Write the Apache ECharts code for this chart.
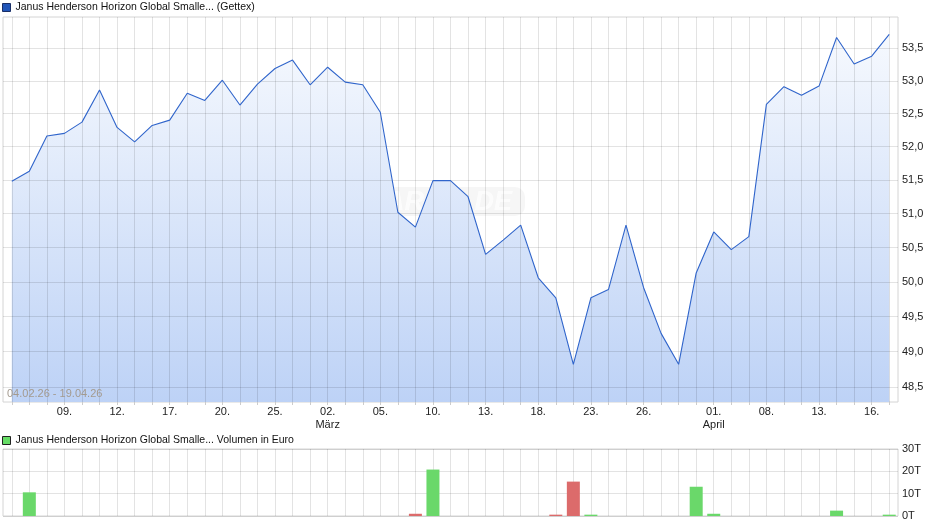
<!DOCTYPE html>
<html><head><meta charset="utf-8">
<script src="https://cdn.jsdelivr.net/npm/echarts@6/dist/echarts.min.js"></script>
<style>html,body{margin:0;padding:0;background:#fff}#c{width:940px;height:526px}</style>
</head><body><div id="c"></div>
<script>
const priceName = 'Janus Henderson Horizon Global Smalle... (Gettex)';
const volName = 'Janus Henderson Horizon Global Smalle... Volumen in Euro';
const dateRange = '04.02.26 - 19.04.26';

const dates = ['04.02.26','05.02.26','06.02.26','09.02.26','10.02.26','11.02.26','12.02.26','13.02.26','16.02.26','17.02.26','18.02.26','19.02.26','20.02.26','23.02.26','24.02.26','25.02.26','26.02.26','27.02.26','02.03.26','03.03.26','04.03.26','05.03.26','06.03.26','09.03.26','10.03.26','11.03.26','12.03.26','13.03.26','16.03.26','17.03.26','18.03.26','19.03.26','20.03.26','23.03.26','24.03.26','25.03.26','26.03.26','27.03.26','30.03.26','31.03.26','01.04.26','02.04.26','07.04.26','08.04.26','09.04.26','10.04.26','13.04.26','14.04.26','15.04.26','16.04.26','17.04.26'];

const closes = [51.48,51.63,52.16,52.20,52.37,52.86,52.29,52.07,52.32,52.40,
  52.81,52.70,53.01,52.63,52.95,53.19,53.32,52.94,53.21,52.98,
  52.94,52.52,51.02,50.80,51.49,51.49,51.25,50.40,50.61,50.83,
  50.06,49.77,48.82,49.77,49.89,50.83,49.92,49.26,48.82,50.13,
  50.73,50.47,50.66,52.64,52.91,52.78,52.92,53.67,53.26,53.38,53.72];

// volume in thousand euro (T)
const volumes = [0,10.6,0,0,0,0,0,0,0,0,
  0,0,0,0,0,0,0,0,0,0,
  0,0,0,1.0,20.8,0,0,0,0,0,
  0,0.6,15.4,0.6,0,0,0,0,0,13.1,
  1.0,0,0,0,0,0,0,2.4,0,0,0.6];

const priceTicks = [48.5,49.0,49.5,50.0,50.5,51.0,51.5,52.0,52.5,53.0,53.5];
const xTickLabels = ['09.02.26','12.02.26','17.02.26','20.02.26','25.02.26','02.03.26','05.03.26','10.03.26','13.03.26','18.03.26','23.03.26','26.03.26','01.04.26','08.04.26','13.04.26','16.04.26'];
const monthLabels = {'02.03.26':'März','01.04.26':'April'};

const FONT = 'Liberation Sans, Arial, sans-serif';
const GRID_LINE = 'rgba(0,0,0,0.11)';

const chart = echarts.init(document.getElementById('c'));
const vLines = dates.map(d => ({xAxis: d}));
const hLines = priceTicks.map(v => ({
  yAxis: v,
  label: {show: true, position: 'end', distance: 4, formatter: v.toFixed(1).replace('.', ','),
          fontSize: 11, color: '#222', fontFamily: FONT}
}));

chart.setOption({
  animation: false,
  title: {text: dateRange, left: 7, top: 388, padding: 0,
    textStyle: {fontSize: 11, fontWeight: 'normal', color: '#a39a8f', fontFamily: FONT}},
  legend: [
    {data: [{name: priceName, icon: 'rect', itemStyle: {color: '#2155b8', borderColor: '#1a2f66', borderWidth: 1}}],
     left: 2, top: 2, padding: 0, itemWidth: 8, itemHeight: 8, selectedMode: false,
     textStyle: {fontSize: 10.5, color: '#111', fontFamily: FONT}},
    {data: [{name: volName, icon: 'rect', itemStyle: {color: '#66dd66', borderColor: '#222', borderWidth: 1}}],
     left: 2, top: 435, padding: 0, itemWidth: 8, itemHeight: 8, selectedMode: false,
     textStyle: {fontSize: 10.5, color: '#111', fontFamily: FONT}}
  ],
  grid: [
    {left: 3, right: 42, top: 17, bottom: 124, show: true, borderColor: '#d4d4d4', borderWidth: 1},
    {left: 3, right: 42, top: 449, bottom: 10, show: true, borderColor: '#d4d4d4', borderWidth: 1}
  ],
  xAxis: [
    {type: 'category', gridIndex: 0, data: dates, boundaryGap: true,
     axisLine: {show: false},
     axisTick: {show: true, alignWithLabel: true, interval: 0, length: 3, lineStyle: {color: '#ccc'}},
     splitLine: {show: false},
     axisLabel: {interval: (i, v) => xTickLabels.includes(v),
       formatter: v => v.slice(0, 3) + (monthLabels[v] ? '\n' + monthLabels[v] : ''),
       fontSize: 11, color: '#222', margin: 3, lineHeight: 13, fontFamily: FONT}},
    {type: 'category', gridIndex: 1, data: dates, boundaryGap: true,
     axisLine: {show: false}, axisTick: {show: false}, axisLabel: {show: false}, splitLine: {show: false}}
  ],
  yAxis: [
    {type: 'log', gridIndex: 0, logBase: 10, min: 48.29, max: 53.99, position: 'right',
     axisLine: {show: false}, axisTick: {show: false}, axisLabel: {show: false}, splitLine: {show: false}},
    {type: 'value', gridIndex: 1, min: 0, max: 30, interval: 10, position: 'right',
     axisLine: {show: false}, axisTick: {show: false},
     axisLabel: {formatter: '{value}T', fontSize: 11, color: '#222', margin: 4, fontFamily: FONT},
     splitLine: {show: true, lineStyle: {color: GRID_LINE}}}
  ],
  graphic: [
    {type: 'group', left: 377, top: 187, silent: true, z: 1, children: [
      {type: 'rect', shape: {x: 0, y: 0, width: 148, height: 29, r: 10},
       style: {fill: 'rgba(190,190,190,0.14)'}},
      {type: 'text', x: 8, y: 2, style: {text: 'ARIVA.DE', font: 'italic bold 27px Liberation Sans',
       fill: 'rgba(255,255,255,0.75)'}}
    ]}
  ],
  series: [
    {name: 'area', type: 'line', xAxisIndex: 0, yAxisIndex: 0, data: closes, symbol: 'none', z: 2,
     lineStyle: {width: 0, opacity: 0},
     areaStyle: {origin: 'start', opacity: 1,
       color: new echarts.graphic.LinearGradient(0, 0, 0, 1, [
         {offset: 0, color: '#f6f9fe'}, {offset: 1, color: '#bdd2f6'}])},
     markLine: {silent: true, symbol: 'none', z: 3, animation: false,
       lineStyle: {color: GRID_LINE, type: 'solid', width: 1},
       label: {show: false}, emphasis: {disabled: true},
       data: [...hLines, ...vLines]}},
    {name: priceName, type: 'line', xAxisIndex: 0, yAxisIndex: 0, data: closes, symbol: 'none', z: 6,
     color: '#2155b8', lineStyle: {color: '#3065cb', width: 1.1}},
    {name: volName, type: 'bar', xAxisIndex: 1, yAxisIndex: 1, barWidth: 13, z: 4,
     color: '#66dd66',
     data: volumes.map((v, i) => ({value: v, itemStyle: {color: (i > 0 && closes[i] < closes[i - 1]) ? '#dc6b6b' : '#6ad86a'}})),
     markLine: {silent: true, symbol: 'none', z: 1, animation: false,
       lineStyle: {color: GRID_LINE, type: 'solid', width: 1},
       label: {show: false}, emphasis: {disabled: true},
       data: vLines}}
  ]
});
</script></body></html>
